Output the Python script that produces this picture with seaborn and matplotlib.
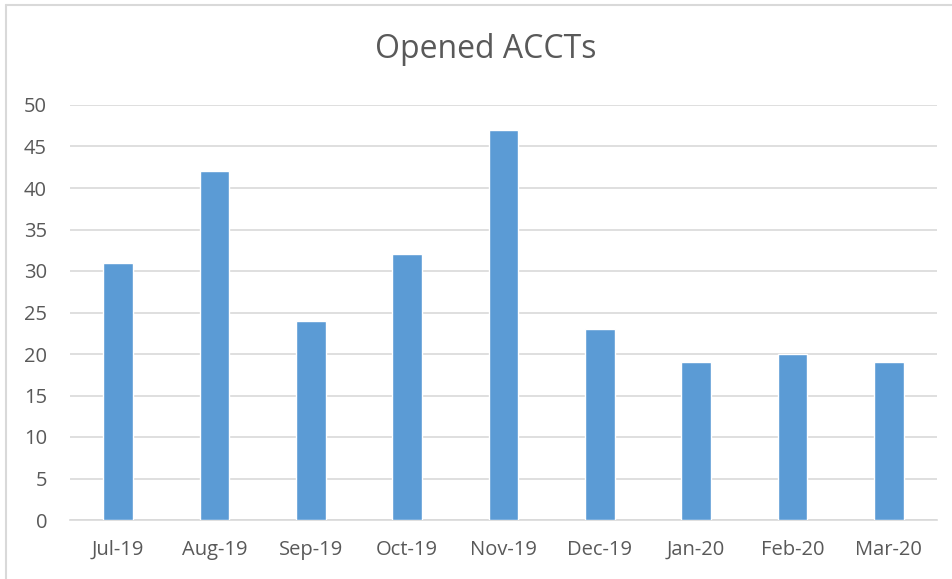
"""
Recreate the 'Opened ACCTs' monthly bar chart with seaborn.
"""

import matplotlib.pyplot as plt
from matplotlib.lines import Line2D
import pandas as pd
import seaborn as sns

MONTHS = ["Jul-19", "Aug-19", "Sep-19", "Oct-19", "Nov-19",
          "Dec-19", "Jan-20", "Feb-20", "Mar-20"]
OPENED = [31, 42, 24, 32, 47, 23, 19, 20, 19]

BAR_COLOR = "#5b9bd5"
TEXT_COLOR = "#595959"
GRID_COLOR = "#d9d9d9"


def create_chart() -> None:
    df = pd.DataFrame({"Month": MONTHS, "Opened": OPENED})

    sns.set_style("white")
    plt.rcParams["font.family"] = ["Open Sans", "DejaVu Sans"]

    fig = plt.figure(figsize=(9.52, 5.79), dpi=100)
    ax = fig.add_axes([70 / 952, 1 - 520 / 579, 867 / 952, 415 / 579])

    sns.barplot(data=df, x="Month", y="Opened", color=BAR_COLOR,
                width=0.31, saturation=1, ax=ax, zorder=3)

    ax.set_ylim(0, 50)
    ax.set_xlim(-0.5, len(MONTHS) - 0.5)
    ax.set_yticks(range(0, 51, 5))
    ax.yaxis.grid(True, color=GRID_COLOR, linewidth=1.2, zorder=0)
    ax.set_axisbelow(True)

    for side in ["top", "right", "left"]:
        ax.spines[side].set_visible(False)
    ax.spines["bottom"].set_color(GRID_COLOR)
    ax.spines["bottom"].set_linewidth(1.2)

    ax.tick_params(axis="y", length=0, labelsize=14.5,
                   labelcolor=TEXT_COLOR, pad=16.5)
    ax.tick_params(axis="x", which="major", length=0, labelsize=14.5,
                   labelcolor=TEXT_COLOR, pad=14.5)
    ax.set_xticks([i - 0.5 for i in range(len(MONTHS) + 1)], minor=True)
    ax.tick_params(axis="x", which="minor", length=7, width=1.2,
                   color=GRID_COLOR, direction="out")

    ax.set_xlabel("")
    ax.set_ylabel("")
    fig.text(486 / 952, 1 - 50 / 579, "Opened ACCTs", ha="center",
             va="center", fontsize=23, color=TEXT_COLOR)

    # chart frame
    fig.add_artist(Line2D([6 / 952, 6 / 952], [0, 1 - 5 / 579],
                          transform=fig.transFigure, color=GRID_COLOR, lw=1.5))
    fig.add_artist(Line2D([6 / 952, 1], [1 - 5 / 579, 1 - 5 / 579],
                          transform=fig.transFigure, color=GRID_COLOR, lw=1.5))

    fig.savefig("out.png", dpi=100)


if __name__ == "__main__":
    create_chart()
